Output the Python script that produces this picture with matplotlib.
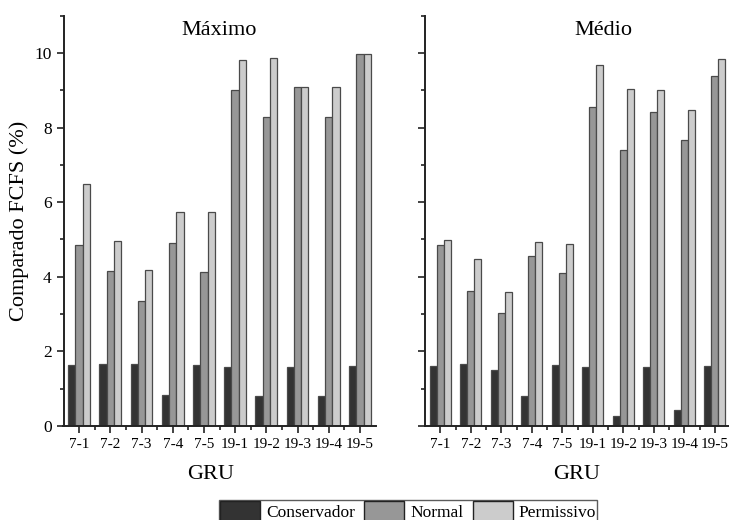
import numpy as np
import matplotlib
matplotlib.use("Agg")
import matplotlib.pyplot as plt
from matplotlib.ticker import MultipleLocator

plt.rcParams['font.family'] = ['Liberation Serif', 'DejaVu Serif']

grupos = ["7-1", "7-2", "7-3", "7-4", "7-5", "19-1", "19-2", "19-3", "19-4", "19-5"]
series = ["Conservador", "Normal", "Permissivo"]
cores = ["#333333", "#979797", "#cccccc"]

# Máximo
max_conservador = [1.63, 1.66, 1.67, 0.82, 1.64, 1.58, 0.81, 1.59, 0.81, 1.61]
max_normal = [4.86, 4.15, 3.35, 4.90, 4.12, 9.02, 8.29, 9.08, 8.29, 9.96]
max_permissivo = [6.50, 4.95, 4.18, 5.73, 5.73, 9.80, 9.87, 9.08, 9.08, 9.96]

# Médio
med_conservador = [1.62, 1.66, 1.50, 0.81, 1.63, 1.58, 0.28, 1.59, 0.42, 1.60]
med_normal = [4.85, 3.62, 3.04, 4.56, 4.10, 8.55, 7.41, 8.43, 7.67, 9.37]
med_permissivo = [4.99, 4.47, 3.58, 4.93, 4.88, 9.68, 9.03, 9.00, 8.47, 9.85]

fig = plt.figure(figsize=(7.29, 5.2), dpi=100)
W, H = 729, 520
ax1 = fig.add_axes([63.5 / W, 1 - 426 / H, 312 / W, 410.3 / H])
ax2 = fig.add_axes([425 / W, 1 - 426 / H, 305 / W, 410.3 / H])

x = np.arange(len(grupos))
w = 0.232

paineis = [
    (ax1, "Máximo", [max_conservador, max_normal, max_permissivo], 0.5, 0.47),
    (ax2, "Médio", [med_conservador, med_normal, med_permissivo], 0.584, 0.498),
]

for ax, titulo, dados, tx, gx in paineis:
    for i, (vals, cor, nome) in enumerate(zip(dados, cores, series)):
        ax.bar(x + (i - 1) * w, vals, w, color=cor, edgecolor="#4a4a4a",
               linewidth=0.9, label=nome)
    ax.set_xlim(-0.5, 9.5)
    ax.set_ylim(0, 11)
    ax.set_xticks(x)
    ax.set_xticklabels(grupos)
    ax.set_xticks(x[:-1] + 0.5, minor=True)
    ax.yaxis.set_major_locator(MultipleLocator(2))
    ax.yaxis.set_minor_locator(MultipleLocator(1))
    ax.tick_params(axis="both", which="major", direction="out", length=5,
                   width=1.2, color="#222222", labelsize=12.5)
    ax.tick_params(axis="x", which="major", labelsize=11)
    ax.tick_params(axis="both", which="minor", direction="out", length=3,
                   width=1.2, color="#222222")
    for s in ["top", "right"]:
        ax.spines[s].set_visible(False)
    for s in ["left", "bottom"]:
        ax.spines[s].set_linewidth(1.4)
        ax.spines[s].set_color("#222222")
    ax.text(tx, 0.965, titulo, transform=ax.transAxes, ha="center",
            va="center", fontsize=16)
    ax.set_xlabel("GRU", fontsize=16)
    ax.xaxis.set_label_coords(gx, -0.095)

ax1.set_ylabel("Comparado FCFS (%)", fontsize=16, labelpad=4)
ax2.tick_params(axis="y", which="both", labelleft=False)

handles, labels = ax1.get_legend_handles_labels()
leg = fig.legend(handles, labels, loc="lower center", ncol=3,
                 bbox_to_anchor=(408 / W, -0.003), fontsize=12.5,
                 frameon=True, fancybox=False, edgecolor="#333333",
                 handlelength=2.3, handleheight=1.35, handletextpad=0.35,
                 columnspacing=0.55, borderpad=0.05, borderaxespad=0.0)
leg.get_frame().set_linewidth(1.0)
for h in leg.legend_handles:
    h.set_edgecolor("#222222")
    h.set_linewidth(1.0)

fig.savefig("out.png", dpi=100)
